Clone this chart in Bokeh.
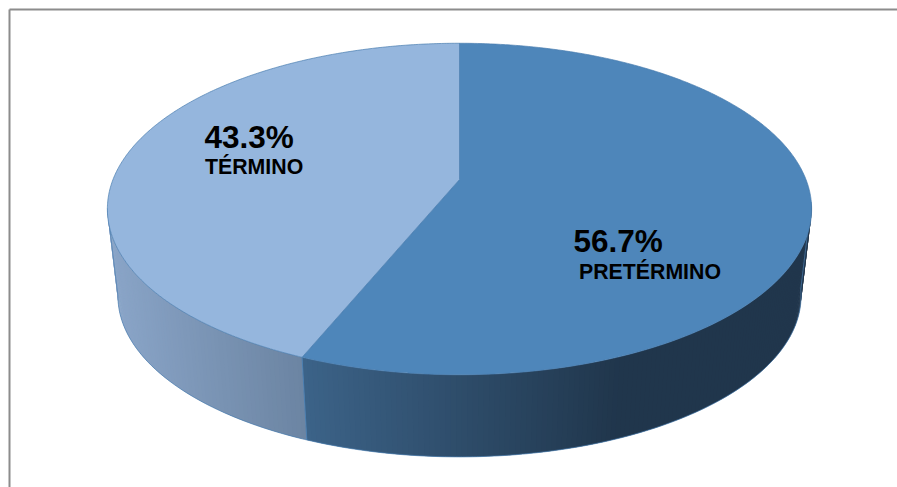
import math

from bokeh.core.properties import value
from bokeh.embed import file_html
from bokeh.models import Range1d
from bokeh.plotting import figure
from bokeh.resources import INLINE

# Chart data
categories = ["PRETÉRMINO", "TÉRMINO"]
shares = [56.7, 43.3]
share_labels = ["56.7%", "43.3%"]

# Colours of the two slices: top face, wall at its left end, wall at its right end
top_colors = ["#4E86BA", "#95B6DD"]
wall_left = [(60, 99, 136), (138, 165, 200)]
wall_right = [(32, 54, 76), (108, 133, 163)]
wall_fade_end = [615, 303]

# Perspective view of the disc, in page pixels
APEX_X, APEX_Y = 459.0, 179.0
TILT = 0.178
SCALE_X = 346.5
SCALE_Y = 160.5
LOWER_SCALE = 0.97
LOWER_Y = 267.0
ANGLE_LENS = -1.9  # degrees of angular compression toward the front of the disc


def project(theta_deg, scale=1.0, origin_y=APEX_Y):
    """Map a clockwise angle from twelve o'clock onto the tilted disc."""
    half = math.radians(theta_deg) / 2
    t = math.radians(theta_deg + ANGLE_LENS * math.sin(half) ** 2)
    u, v = math.sin(t), -math.cos(t)
    d = 1 - TILT * v
    return APEX_X + scale * SCALE_X * u / d, origin_y + scale * SCALE_Y * v / d


def top_point(a):
    return project(a)


def lower_point(a):
    return project(a, LOWER_SCALE, LOWER_Y)


def sweep(a0, a1, step=0.5):
    n = max(2, int(abs(a1 - a0) / step))
    return [a0 + (a1 - a0) * i / n for i in range(n + 1)]


def lerp_color(c0, c1, f):
    f = max(0.0, min(1.0, f))
    return "#%02x%02x%02x" % tuple(round(a + (b - a) * f) for a, b in zip(c0, c1))


# Slice boundaries in degrees, clockwise from twelve o'clock
total = sum(shares)
edges = [0.0]
for s in shares:
    edges.append(edges[-1] + 360.0 * s / total)

p = figure(
    width=897,
    height=487,
    x_range=Range1d(0, 897),
    y_range=Range1d(487, 0),
    output_backend="svg",
    toolbar_location=None,
    min_border=0,
    outline_line_color=None,
    background_fill_color="white",
    border_fill_color="white",
)
p.axis.visible = False
p.grid.visible = False

# Chart frame: only its top and left edges fall inside the page
p.line([9, 9], [487, 9], line_color="#8c8c8c", line_width=2)
p.line([9, 897], [9, 9], line_color="#8c8c8c", line_width=2)

# Outer walls: each shaded strip reaches under its neighbour so no seams show
WALL_FROM, WALL_TO = 99.0, 261.0
for i, (a0, a1) in enumerate(zip(edges[:-1], edges[1:])):
    lo, hi = max(a0, WALL_FROM), min(a1, WALL_TO)
    if hi <= lo:
        continue
    x_start = lower_point(hi)[0]
    steps = sweep(lo, hi, 0.75)
    for j in range(len(steps) - 1):
        b0 = steps[j]
        b1 = steps[min(j + 2, len(steps) - 1)]
        t0, t1 = top_point(b0), top_point(b1)
        l0, l1 = lower_point(b0), lower_point(b1)
        mid_x = lower_point((steps[j] + steps[j + 1]) / 2)[0]
        span = (mid_x - x_start) / (wall_fade_end[i] - x_start)
        p.patch(
            [t0[0], t1[0], l1[0], l0[0]],
            [t0[1], t1[1], l1[1], l0[1]],
            fill_color=lerp_color(wall_left[i], wall_right[i], span),
            line_color=None,
        )

# Lit edges of the walls: seam between slices, silhouette and lower rim
rim = "#4A7EB0"
seam = edges[1]
p.line(
    [top_point(seam)[0], lower_point(seam)[0]],
    [top_point(seam)[1], lower_point(seam)[1]],
    line_color=rim,
    line_width=1,
)
rim_angles = sweep(WALL_FROM, WALL_TO)
p.line(
    [lower_point(a)[0] for a in rim_angles],
    [lower_point(a)[1] for a in rim_angles],
    line_color=rim,
    line_width=0.7,
)
for a in (WALL_FROM, WALL_TO):
    p.line(
        [top_point(a)[0], lower_point(a)[0]],
        [top_point(a)[1], lower_point(a)[1]],
        line_color=rim,
        line_width=0.7,
    )

# Top face of each slice
for i, (a0, a1) in enumerate(zip(edges[:-1], edges[1:])):
    arc = [top_point(a) for a in sweep(a0, a1)]
    xs = [APEX_X] + [q[0] for q in arc]
    ys = [APEX_Y] + [q[1] for q in arc]
    p.patch(xs, ys, fill_color=top_colors[i], line_color=rim, line_width=0.7)

# Value and category labels
LABEL_FONT = value("Liberation Sans")
value_xy = [(573, 240), (204, 136)]
name_xy = [(578.5, 271), (204.5, 166)]
for i in range(len(categories)):
    p.text(
        [value_xy[i][0]],
        [value_xy[i][1]],
        text=[share_labels[i]],
        text_font=LABEL_FONT,
        text_font_size="31.5px",
        text_font_style="bold",
        text_color="black",
        text_baseline="alphabetic",
    )
    p.text(
        [name_xy[i][0]],
        [name_xy[i][1]],
        text=[categories[i]],
        text_font=LABEL_FONT,
        text_font_size="21.3px",
        text_font_style="bold",
        text_color="black",
        text_baseline="alphabetic",
    )

open("out.html", "w").write(file_html(p, INLINE))
